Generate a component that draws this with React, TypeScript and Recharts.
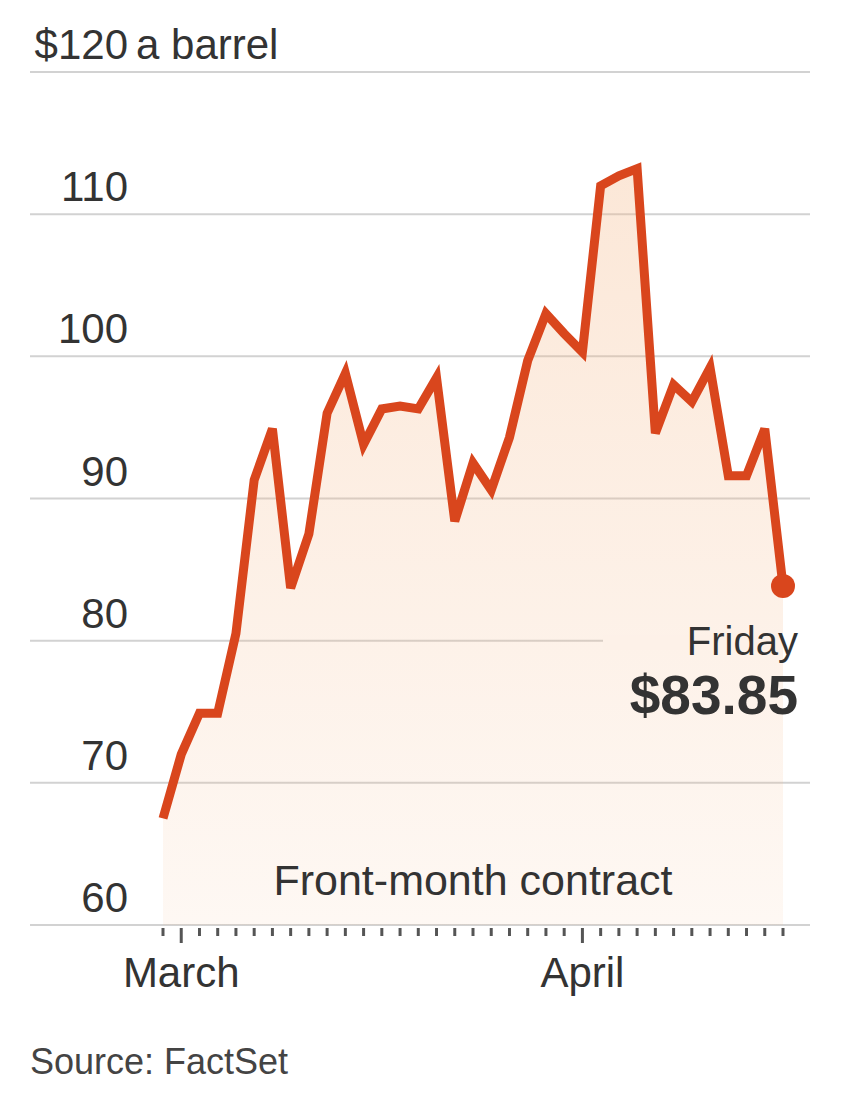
import { Area, AreaChart, CartesianGrid, ReferenceDot, XAxis, YAxis } from "recharts";

// Front-month crude, daily settles, Feb 27 through Friday Apr 17.
const dates = [
  "Feb 27",
  "Mar 2", "Mar 3", "Mar 4", "Mar 5", "Mar 6",
  "Mar 9", "Mar 10", "Mar 11", "Mar 12", "Mar 13",
  "Mar 16", "Mar 17", "Mar 18", "Mar 19", "Mar 20",
  "Mar 23", "Mar 24", "Mar 25", "Mar 26", "Mar 27",
  "Mar 30", "Mar 31", "Apr 1", "Apr 2",
  "Apr 6", "Apr 7", "Apr 8", "Apr 9", "Apr 10",
  "Apr 13", "Apr 14", "Apr 15", "Apr 16", "Apr 17",
];

const prices = [
  67.5, 72.0, 74.9, 74.9, 80.5, 91.3, 94.9, 83.7, 87.5, 96.0,
  98.8, 93.8, 96.3, 96.5, 96.3, 98.5, 88.4, 92.5, 90.6, 94.3,
  99.7, 103.0, 101.6, 100.3, 112.0, 112.7, 113.2, 94.6, 98.0, 96.8,
  99.2, 91.6, 91.6, 94.9, 83.85,
];

const monthStarts = ["Mar 2", "Apr 1"];
const monthLabels = ["March", "April"];
const yTicks = [60, 70, 80, 90, 100, 110, 120];

const LINE = "#d9461d";
const TEXT = "#333";
const FONT = "'Liberation Sans', Arial, sans-serif";

const data = dates.map((date, i) => ({ i, date, price: prices[i] }));
const lastIndex = dates.length - 1;
const lastPrice = prices[lastIndex];

function YTick({ x, y, payload }: any) {
  const v = payload.value as number;
  const by = y - 13;
  if (v === 120) {
    return (
      <g>
        <text x={x + 98} y={by} textAnchor="end" fontSize={42} fill={TEXT} fontFamily={FONT}>
          $120
        </text>
        <text x={x + 106} y={by} textAnchor="start" fontSize={42} fill={TEXT} fontFamily={FONT}>
          a barrel
        </text>
      </g>
    );
  }
  return (
    <text x={x + 98} y={by} textAnchor="end" fontSize={42} fill={TEXT} fontFamily={FONT}>
      {v}
    </text>
  );
}

function XTick({ x, y, payload }: any) {
  const date = dates[payload.value];
  const m = monthStarts.indexOf(date);
  const isMonth = m >= 0;
  return (
    <g>
      <line x1={x} x2={x} y1={y + 3} y2={y + (isMonth ? 18 : 11)} stroke="#555" strokeWidth={3} />
      {isMonth && (
        <text x={x} y={y + 62} textAnchor="middle" fontSize={42} fill={TEXT} fontFamily={FONT}>
          {monthLabels[m]}
        </text>
      )}
    </g>
  );
}

function LastLabel({ viewBox }: any) {
  const cx = viewBox.x + viewBox.width / 2;
  const cy = viewBox.y + viewBox.height / 2;
  return (
    <g>
      {/* knock out the 80 gridline behind the callout */}
      <rect x={cx - 180} y={cy + 50} width={180} height={14} fill="#fdf1e8" />
      <rect x={cx} y={cy + 50} width={28} height={14} fill="#fff" />
      <text x={cx + 15} y={cy + 69} textAnchor="end" fontSize={40} fill={TEXT} fontFamily={FONT}>
        Friday
      </text>
      <text x={cx + 15} y={cy + 128} textAnchor="end" fontSize={55} fontWeight={700} fill={TEXT} fontFamily={FONT}>
        ${lastPrice.toFixed(2)}
      </text>
    </g>
  );
}

function SeriesLabel({ viewBox }: any) {
  const cx = viewBox.x + viewBox.width / 2;
  const cy = viewBox.y + viewBox.height / 2;
  return (
    <text x={cx} y={cy - 30} textAnchor="middle" fontSize={43} fill={TEXT} fontFamily={FONT}>
      Front-month contract
    </text>
  );
}

export default function App() {
  return (
    <div style={{ position: "absolute", left: 0, top: 0, width: 855, height: 1098, background: "#fff" }}>
      <AreaChart
        width={855}
        height={1098}
        data={data}
        margin={{ top: 72, right: 45, bottom: 143, left: 0 }}
      >
        <defs>
          <linearGradient id="oilFill" x1="0" y1="0" x2="0" y2="1">
            <stop offset="0%" stopColor="#f5b98a" stopOpacity={0.34} />
            <stop offset="100%" stopColor="#f5b98a" stopOpacity={0.1} />
          </linearGradient>
        </defs>
        <CartesianGrid vertical={false} stroke="#d2d2d2" strokeWidth={2} />
        <XAxis
          type="number"
          dataKey="i"
          domain={[0, lastIndex]}
          ticks={data.map((d) => d.i)}
          interval={0}
          padding={{ left: 133, right: 27 }}
          height={30}
          axisLine={false}
          tickLine={false}
          tickSize={0}
          tickMargin={0}
          tick={<XTick />}
        />
        <YAxis
          domain={[60, 120]}
          ticks={yTicks}
          interval={0}
          width={30}
          axisLine={false}
          tickLine={false}
          tickSize={0}
          tickMargin={0}
          tick={<YTick />}
        />
        <Area
          type="linear"
          dataKey="price"
          stroke={LINE}
          strokeWidth={9}
          fill="url(#oilFill)"
          fillOpacity={1}
          baseValue={60}
          dot={false}
          activeDot={false}
          isAnimationActive={false}
        />
        <ReferenceDot x={lastIndex / 2} y={60} r={0} stroke="none" fill="none" label={<SeriesLabel />} />
        <ReferenceDot x={lastIndex} y={lastPrice} r={12} fill={LINE} stroke="none" label={<LastLabel />} />
      </AreaChart>
      <div
        style={{
          position: "absolute",
          left: 30,
          top: 1044,
          fontSize: 36,
          lineHeight: "36px",
          color: "#444",
          fontFamily: FONT,
        }}
      >
        Source: FactSet
      </div>
    </div>
  );
}
